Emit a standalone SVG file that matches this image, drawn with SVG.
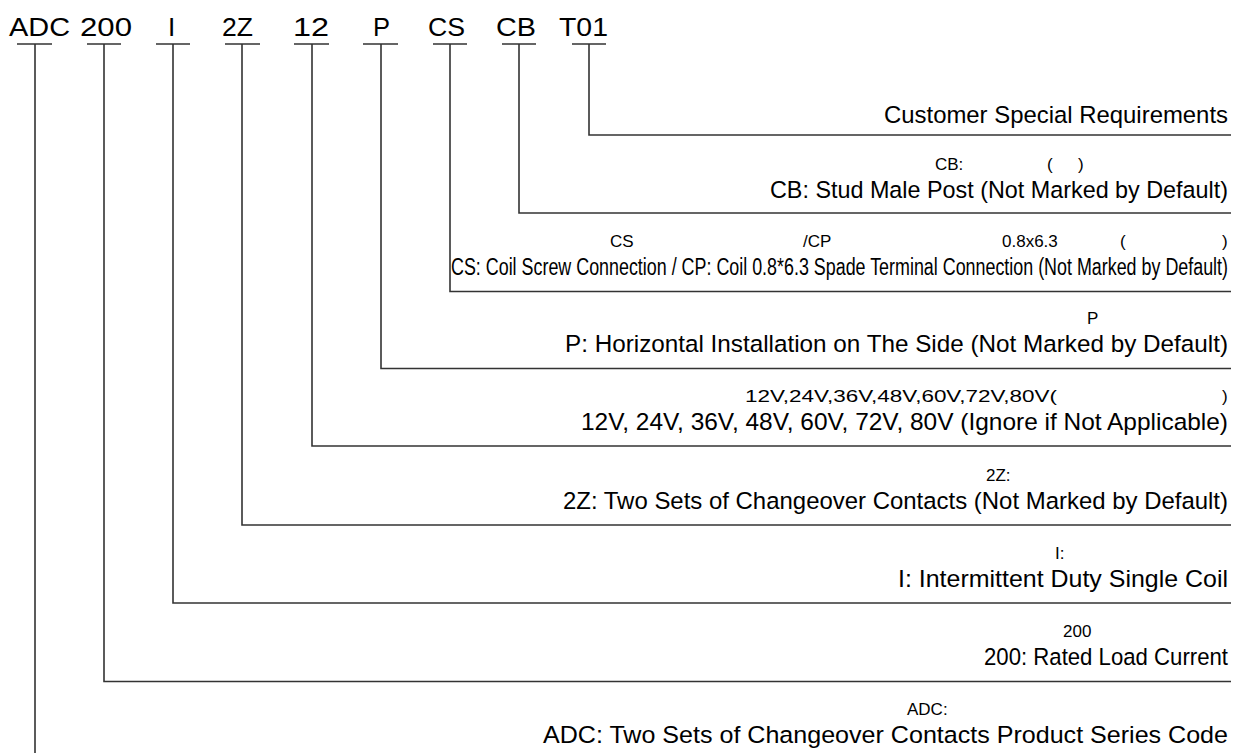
<svg xmlns="http://www.w3.org/2000/svg" width="1240" height="753" viewBox="0 0 1240 753">
<style>
.code{font-family:"Liberation Sans",Arial,sans-serif;font-size:26px;fill:#000}
.en{font-family:"Liberation Sans",Arial,sans-serif;font-size:24.5px;fill:#000}
.en2{font-family:"Liberation Sans",Arial,sans-serif;font-size:23px;fill:#000}
.zh{font-family:"Liberation Sans","Noto Sans CJK SC",sans-serif;font-size:17px;fill:#000}
.ln{fill:none;stroke:#333;stroke-width:1.6}
</style>
<rect width="1240" height="753" fill="#fff"/>
<g id="codes">
<text class="code" x="9" y="36" textLength="61" lengthAdjust="spacingAndGlyphs">ADC</text>
<text class="code" x="80" y="36" textLength="52" lengthAdjust="spacingAndGlyphs">200</text>
<text class="code" x="168" y="36">I</text>
<text class="code" x="222" y="36" textLength="31" lengthAdjust="spacingAndGlyphs">2Z</text>
<text class="code" x="293" y="36" textLength="36" lengthAdjust="spacingAndGlyphs">12</text>
<text class="code" x="373" y="36" textLength="17" lengthAdjust="spacingAndGlyphs">P</text>
<text class="code" x="428" y="36" textLength="37" lengthAdjust="spacingAndGlyphs">CS</text>
<text class="code" x="496" y="36" textLength="40" lengthAdjust="spacingAndGlyphs">CB</text>
<text class="code" x="559" y="36" textLength="49" lengthAdjust="spacingAndGlyphs">T01</text>
</g>
<g id="connectors">
<path class="ln" d="M17 44H52M35 44V753"/>
<path class="ln" d="M87 44H121M104 44V681.5H1231"/>
<path class="ln" d="M156 44H190M173 44V603H1231"/>
<path class="ln" d="M225 44H260M242 44V525H1231"/>
<path class="ln" d="M294 44H329M312 44V446H1231"/>
<path class="ln" d="M363 44H398M381 44V368.5H1231"/>
<path class="ln" d="M433 44H467M450 44V291.5H1231"/>
<path class="ln" d="M502 44H536M519 44V213H1231"/>
<path class="ln" d="M572 44H606M589 44V135H1231"/>
</g>
<g id="n-t01">
<text class="en" x="1228" y="123" text-anchor="end" textLength="344" lengthAdjust="spacingAndGlyphs">Customer Special Requirements</text>
</g>
<g id="n-cb">
<text class="zh" y="170"><tspan x="935">CB:</tspan><tspan x="1047">(</tspan><tspan x="1078">)</tspan></text>
<text class="en" x="1228" y="198" text-anchor="end" textLength="458" lengthAdjust="spacingAndGlyphs">CB: Stud Male Post (Not Marked by Default)</text>
</g>
<g id="n-cs">
<text class="zh" y="247"><tspan x="610">CS</tspan><tspan x="803">/CP</tspan><tspan x="1002">0.8x6.3</tspan><tspan x="1120">(</tspan><tspan x="1222">)</tspan></text>
<text class="en2" x="451" y="275" textLength="777" lengthAdjust="spacingAndGlyphs">CS: Coil Screw Connection / CP: Coil 0.8*6.3 Spade Terminal Connection (Not Marked by Default)</text>
</g>
<g id="n-p">
<text class="zh" x="1087" y="324">P</text>
<text class="en" x="1228" y="352" text-anchor="end" textLength="663" lengthAdjust="spacingAndGlyphs">P: Horizontal Installation on The Side (Not Marked by Default)</text>
</g>
<g id="n-12">
<text class="zh" y="402"><tspan x="745" textLength="312" lengthAdjust="spacingAndGlyphs">12V,24V,36V,48V,60V,72V,80V(</tspan><tspan x="1222">)</tspan></text>
<text class="en" x="1228" y="430" text-anchor="end" textLength="647" lengthAdjust="spacingAndGlyphs">12V, 24V, 36V, 48V, 60V, 72V, 80V (Ignore if Not Applicable)</text>
</g>
<g id="n-2z">
<text class="zh" x="986" y="481">2Z:</text>
<text class="en" x="1228" y="509" text-anchor="end" textLength="665" lengthAdjust="spacingAndGlyphs">2Z: Two Sets of Changeover Contacts (Not Marked by Default)</text>
</g>
<g id="n-i">
<text class="zh" x="1055" y="559">I:</text>
<text class="en" x="1228" y="587" text-anchor="end" textLength="330" lengthAdjust="spacingAndGlyphs">I: Intermittent Duty Single Coil</text>
</g>
<g id="n-200">
<text class="zh" x="1063" y="637">200</text>
<text class="en" x="1228" y="665" text-anchor="end" textLength="244" lengthAdjust="spacingAndGlyphs">200: Rated Load Current</text>
</g>
<g id="n-adc">
<text class="zh" x="907" y="715">ADC:</text>
<text class="en" x="1228" y="743" text-anchor="end" textLength="685" lengthAdjust="spacingAndGlyphs">ADC: Two Sets of Changeover Contacts Product Series Code</text>
</g>
</svg>
